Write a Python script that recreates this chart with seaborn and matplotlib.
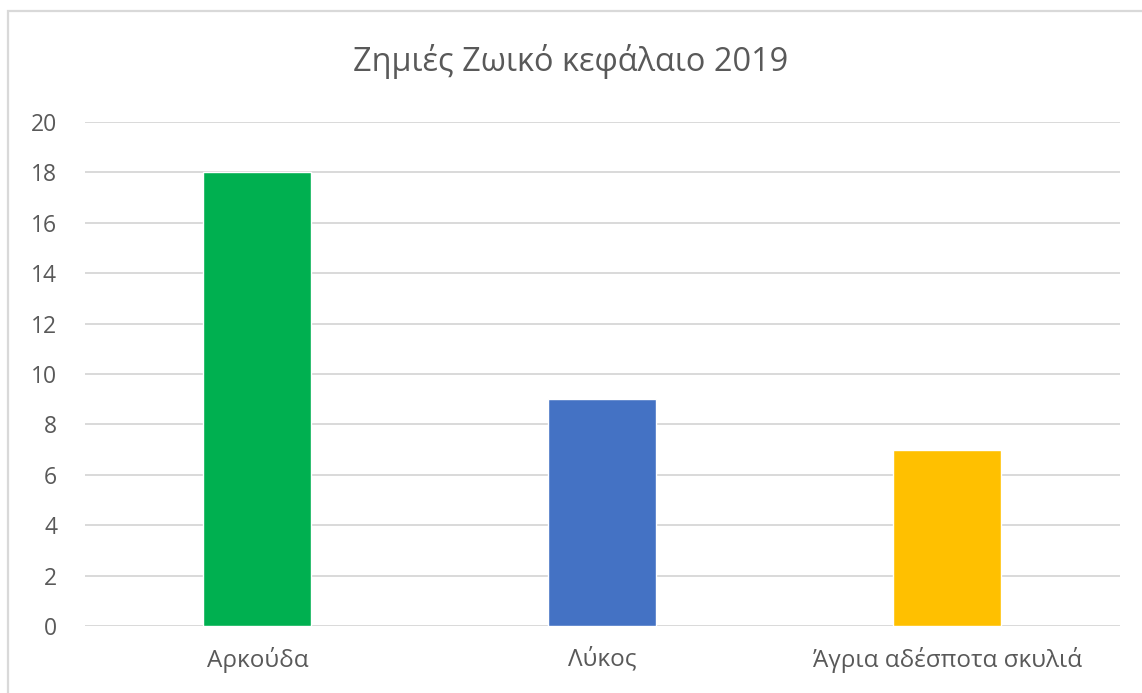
import matplotlib
matplotlib.use("Agg")
import matplotlib.pyplot as plt
import seaborn as sns
from matplotlib.patches import Rectangle

categories = ["Αρκούδα", "Λύκος", "Άγρια αδέσποτα σκυλιά"]
values = [18, 9, 7]
colors = ["#00B050", "#4472C4", "#FFC000"]
title = "Ζημιές Ζωικό κεφάλαιο 2019"
yticks = [0, 2, 4, 6, 8, 10, 12, 14, 16, 18, 20]

sns.set_theme(style="white")
plt.rcParams["font.family"] = ["Open Sans", "DejaVu Sans"]

fig = plt.figure(figsize=(11.42, 6.93), dpi=100)
ax = fig.add_axes([0.0744, 0.0967, 0.9063, 0.7273])

sns.barplot(x=categories, y=values, hue=categories, palette=colors,
            width=0.313, legend=False, ax=ax, saturation=1)

ax.set_xlim(-0.5, 2.5)
ax.set_ylim(0, 20)
ax.set_yticks(yticks)
ax.yaxis.grid(True, color="#D9D9D9", linewidth=1.4)
ax.set_axisbelow(True)
for s in ax.spines.values():
    s.set_visible(False)
ax.tick_params(axis="both", length=0, labelcolor="#595959")
ax.tick_params(axis="y", labelsize=16.5, pad=20)
ax.tick_params(axis="x", labelsize=17.5, pad=15)
ax.set_xlabel("")
ax.set_ylabel("")

fig.text(0.5, 0.911, title, ha="center", va="center", fontsize=23.4, color="#595959")

# chart frame
fig.patches.append(Rectangle((8 / 1142, -0.05), 1.2, 1 - 11 / 693 + 0.05,
                             transform=fig.transFigure, fill=False,
                             edgecolor="#D9D9D9", linewidth=1.6))

fig.savefig("out.png", dpi=100)
